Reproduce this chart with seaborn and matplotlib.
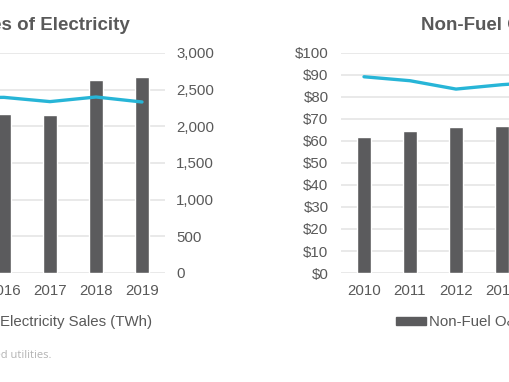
import matplotlib

matplotlib.use("Agg")
import matplotlib.pyplot as plt
import numpy as np
import pandas as pd
import seaborn as sns
from matplotlib.patches import Patch
from matplotlib.ticker import FuncFormatter

# left chart (only the right end of it is in view)
left_years = ["2015", "2016", "2017", "2018", "2019"]
left_sales = [2100, 2168, 2150, 2628, 2673]
left_line = [2390, 2395, 2337, 2400, 2332]

# right chart (only the left end of it is in view)
right_years = ["2010", "2011", "2012", "2013", "2014"]
right_om = [62.0, 64.4, 66.3, 67.0, 68.0]
right_line = [89.2, 87.4, 83.6, 85.6, 87.0]

BAR = "#5b5b5d"
LINE = "#27b5d7"
GRID = "#e3e3e3"
TEXT = "#595959"

sns.set_theme(style="white")
plt.rcParams["font.family"] = ["Liberation Sans", "DejaVu Sans"]

W, H = 510, 382
fig = plt.figure(figsize=(W / 100, H / 100), dpi=100)


def px_box(left, right, top, bottom):
    return [left / W, 1 - bottom / H, (right - left) / W, (bottom - top) / H]


def style_axes(ax, ymax, step):
    ax.set_ylim(0, ymax)
    ax.set_xlim(-0.5, 4.5)
    ax.set_yticks(np.arange(0, ymax + step / 2, step))
    ax.grid(axis="y", color=GRID, linewidth=1.1)
    ax.set_axisbelow(True)
    for s in ax.spines.values():
        s.set_visible(False)
    ax.tick_params(axis="both", length=0, labelsize=10.8, labelcolor=TEXT)
    ax.tick_params(axis="x", pad=8)
    ax.set_xlabel("")
    ax.set_ylabel("")


# ---- left chart
ax1 = fig.add_axes(px_box(-65, 165, 53, 273))
df1 = pd.DataFrame({"year": left_years, "sales": left_sales, "other": left_line})
sns.barplot(data=df1, x="year", y="sales", color=BAR, width=0.32, saturation=1, ax=ax1)
sns.lineplot(x=np.arange(len(left_years)), y=df1["other"], color=LINE, linewidth=2.4, ax=ax1)
style_axes(ax1, 3000, 500)
ax1.yaxis.tick_right()
ax1.tick_params(axis="y", pad=8)
ax1.yaxis.set_major_formatter(FuncFormatter(lambda v, p: f"{v:,.0f}"))

# ---- right chart
ax2 = fig.add_axes(px_box(341, 571, 53, 273))
df2 = pd.DataFrame({"year": right_years, "om": right_om, "other": right_line})
sns.barplot(data=df2, x="year", y="om", color=BAR, width=0.32, saturation=1, ax=ax2)
sns.lineplot(x=np.arange(len(right_years)), y=df2["other"], color=LINE, linewidth=2.4, ax=ax2)
style_axes(ax2, 100, 10)
ax2.tick_params(axis="y", pad=9)
ax2.yaxis.set_major_formatter(FuncFormatter(lambda v, p: f"${v:,.0f}"))

# titles
fig.text(130 / W, 1 - 26 / H, "Sales of Electricity", ha="right", va="center",
         fontsize=13.5, fontweight="bold", color=TEXT)
fig.text(421 / W, 1 - 26 / H, "Non-Fuel O&M", ha="left", va="center",
         fontsize=13.5, fontweight="bold", color=TEXT)

# legends
leg_kw = dict(frameon=False, fontsize=10.8, handlelength=2.0, handleheight=0.42,
              handletextpad=0.2, borderpad=0, borderaxespad=0, labelcolor=TEXT,
              loc="center left")
fig.legend(handles=[Patch(color=BAR)], labels=["Electricity Sales (TWh)"],
           bbox_to_anchor=(-33 / W, 1 - 322 / H), **leg_kw)
fig.legend(handles=[Patch(color=BAR)], labels=["Non-Fuel O&M ($/MWh)"],
           bbox_to_anchor=(396 / W, 1 - 322 / H), **leg_kw)

# footnote
fig.text(52 / W, 1 - 355 / H, "Note: Data for investor-owned utilities.", ha="right",
         va="center", fontsize=8, color="#b3b3b3", family=["Open Sans", "DejaVu Sans"])

fig.savefig("out.png", dpi=100)
